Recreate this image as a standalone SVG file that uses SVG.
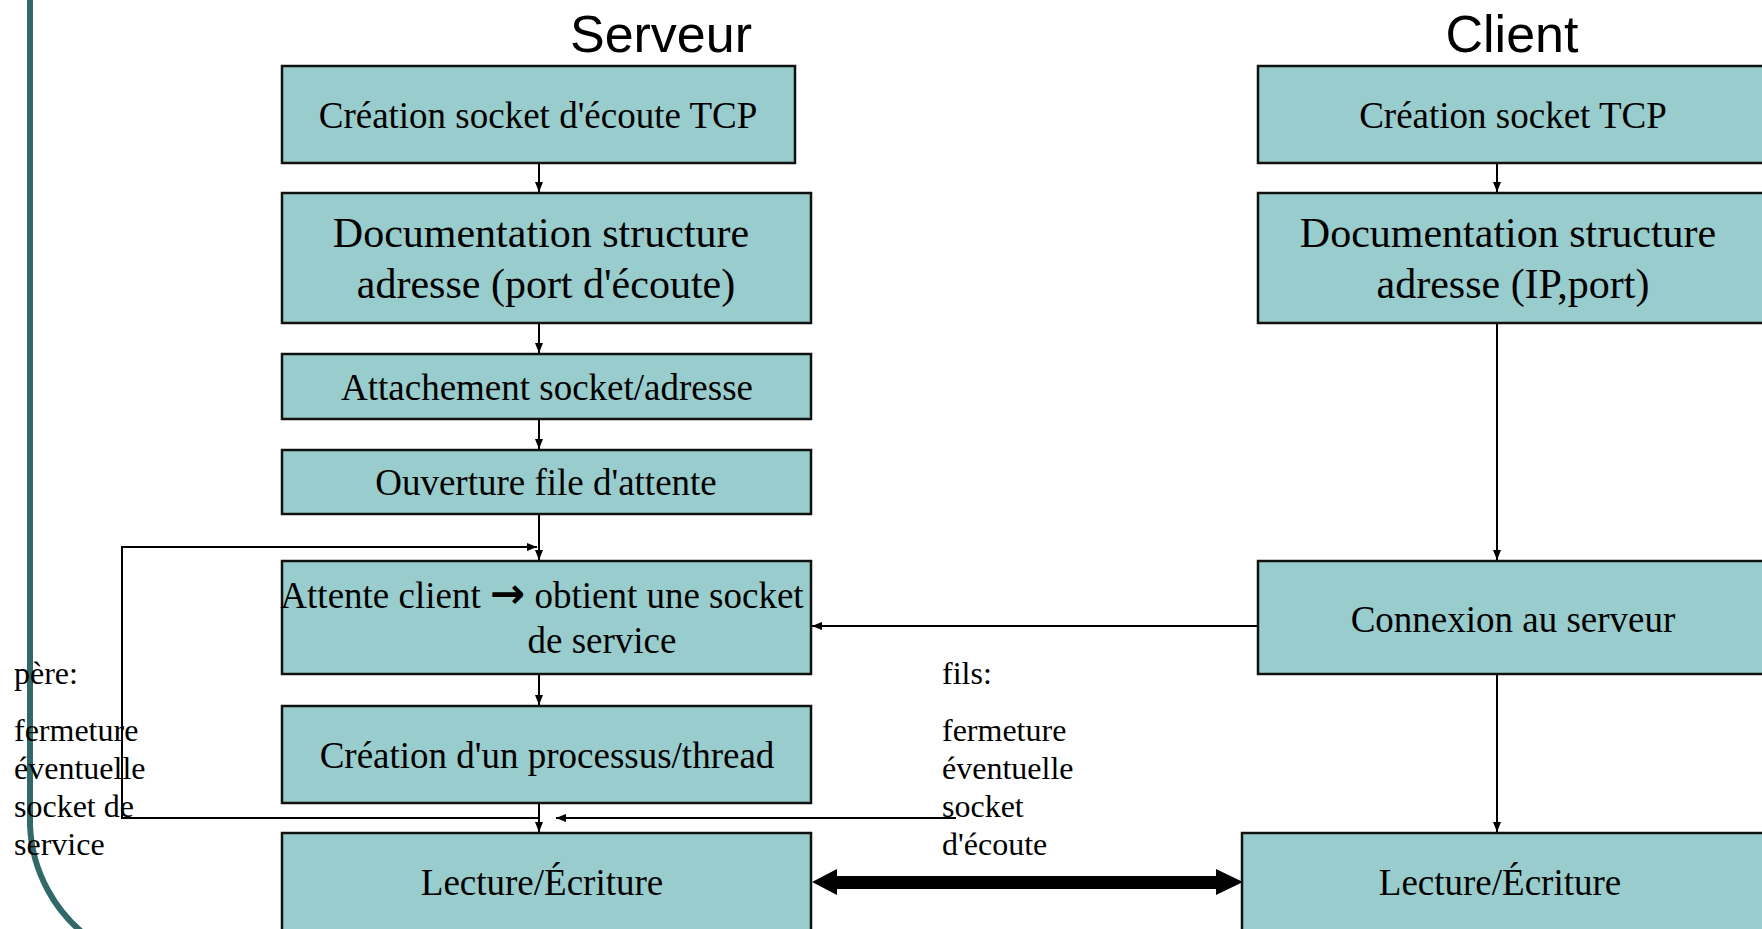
<svg xmlns="http://www.w3.org/2000/svg" width="1762" height="929" viewBox="0 0 1762 929">
<style>
.box{fill:#99CCCC;stroke:#111;stroke-width:2.5}
.t{font-family:"Liberation Serif","Times New Roman",serif;font-size:37px;fill:#000;text-anchor:middle}
.d{font-family:"Liberation Serif","Times New Roman",serif;font-size:42px;fill:#000;text-anchor:middle}
.s{font-family:"Liberation Serif","Times New Roman",serif;font-size:32px;fill:#000}
.h{font-family:"Liberation Sans",Arial,sans-serif;font-size:52px;fill:#000;text-anchor:middle}
.ar{font-family:"DejaVu Sans",sans-serif;font-weight:bold;font-size:42px}
.c{fill:none;stroke:#000;stroke-width:2}
</style>
<defs>
<marker id="ah" viewBox="0 0 10 8" refX="10" refY="4" markerWidth="10" markerHeight="8" orient="auto" markerUnits="userSpaceOnUse">
<path d="M0,0 L10,4 L0,8 z" fill="#000"/>
</marker>
</defs>
<rect width="1762" height="929" fill="#fff"/>
<path d="M30,-5 V825 A148,148 0 0 0 92,940" fill="none" stroke="#336868" stroke-width="6"/>
<text class="h" x="661" y="52">Serveur</text>
<text class="h" x="1512" y="52">Client</text>
<g id="connectors">
<line class="c" x1="539" y1="163" x2="539" y2="192" marker-end="url(#ah)"/>
<line class="c" x1="539" y1="323" x2="539" y2="353" marker-end="url(#ah)"/>
<line class="c" x1="539" y1="419" x2="539" y2="449" marker-end="url(#ah)"/>
<line class="c" x1="539" y1="514" x2="539" y2="560" marker-end="url(#ah)"/>
<line class="c" x1="539" y1="674" x2="539" y2="705" marker-end="url(#ah)"/>
<line class="c" x1="539" y1="803" x2="539" y2="832" marker-end="url(#ah)"/>
<line class="c" x1="1497" y1="163" x2="1497" y2="192" marker-end="url(#ah)"/>
<line class="c" x1="1497" y1="323" x2="1497" y2="560" marker-end="url(#ah)"/>
<line class="c" x1="1497" y1="674" x2="1497" y2="832" marker-end="url(#ah)"/>
<path class="c" d="M539,818 H122 V547 H537" marker-end="url(#ah)"/>
<line class="c" x1="956" y1="818" x2="556" y2="818" marker-end="url(#ah)"/>
<line class="c" x1="1258" y1="626" x2="812" y2="626" marker-end="url(#ah)"/>
<polygon points="812,882 837,869 837,876 1216,876 1216,869 1243,882 1216,895 1216,889 837,889 837,895" fill="#000"/>
</g>
<g id="s1"><rect class="box" x="282" y="66" width="513" height="97"/><text class="t" x="538" y="128">Création socket d'écoute TCP</text></g>
<g id="s2"><rect class="box" x="282" y="193" width="529" height="130"/><text class="d" x="541" y="247">Documentation structure</text><text class="d" x="546" y="298">adresse (port d'écoute)</text></g>
<g id="s3"><rect class="box" x="282" y="354" width="529" height="65"/><text class="t" x="547" y="400">Attachement socket/adresse</text></g>
<g id="s4"><rect class="box" x="282" y="450" width="529" height="64"/><text class="t" x="546" y="495">Ouverture file d'attente</text></g>
<g id="s5"><rect class="box" x="282" y="561" width="529" height="113"/><text class="t" x="542" y="608">Attente client <tspan class="ar">→</tspan> obtient une socket</text><text class="t" x="602" y="653">de service</text></g>
<g id="s6"><rect class="box" x="282" y="706" width="529" height="97"/><text class="t" x="547" y="768">Création d'un processus/thread</text></g>
<g id="s7"><rect class="box" x="282" y="833" width="529" height="120"/><text class="t" x="542" y="895">Lecture/Écriture</text></g>
<g id="c1"><rect class="box" x="1258" y="66" width="540" height="97"/><text class="t" x="1513" y="128">Création socket TCP</text></g>
<g id="c2"><rect class="box" x="1258" y="193" width="540" height="130"/><text class="d" x="1508" y="247">Documentation structure</text><text class="d" x="1513" y="298">adresse (IP,port)</text></g>
<g id="c3"><rect class="box" x="1258" y="561" width="540" height="113"/><text class="t" x="1513" y="632">Connexion au serveur</text></g>
<g id="c4"><rect class="box" x="1242" y="833" width="560" height="120"/><text class="t" x="1500" y="895">Lecture/Écriture</text></g>
<g id="pere">
<text class="s" x="14" y="684">père:</text>
<text class="s" x="14" y="741">fermeture</text>
<text class="s" x="14" y="779">éventuelle</text>
<text class="s" x="14" y="817">socket de</text>
<text class="s" x="14" y="855">service</text>
</g>
<g id="fils">
<text class="s" x="942" y="684">fils:</text>
<text class="s" x="942" y="741">fermeture</text>
<text class="s" x="942" y="779">éventuelle</text>
<text class="s" x="942" y="817">socket</text>
<text class="s" x="942" y="855">d'écoute</text>
</g>
</svg>
